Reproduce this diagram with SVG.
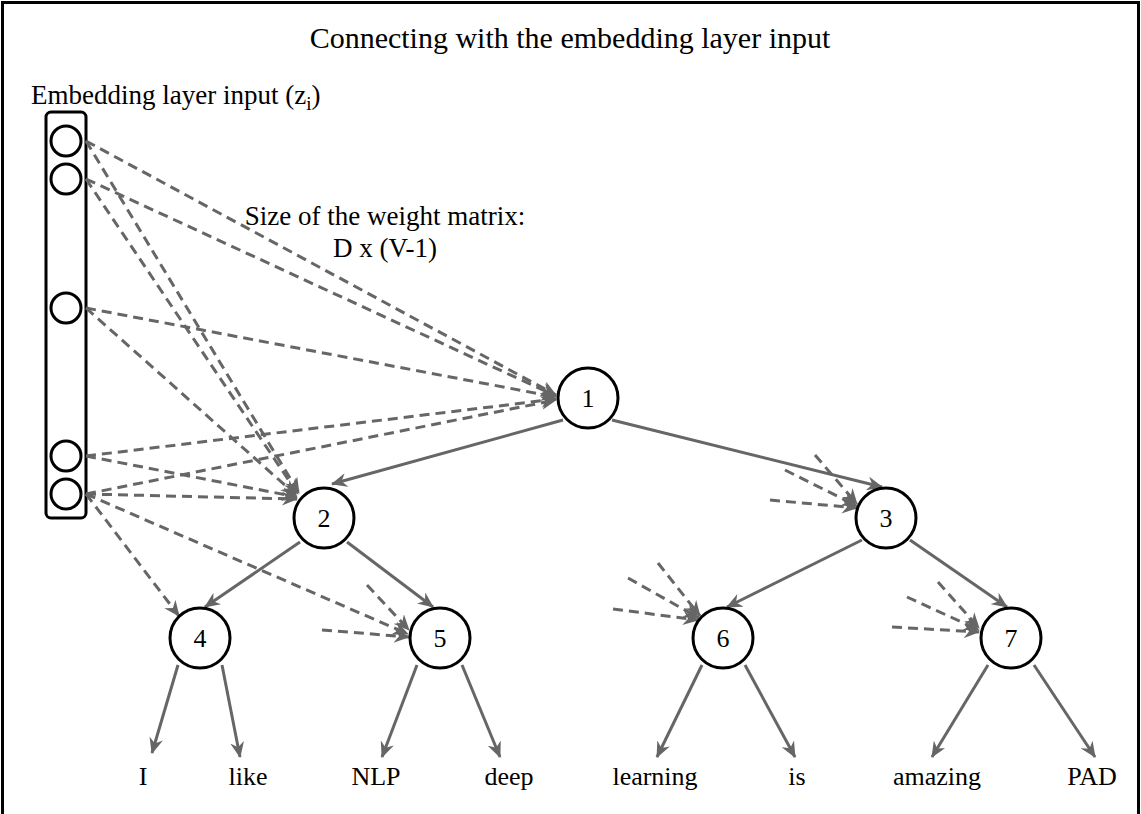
<svg xmlns="http://www.w3.org/2000/svg" width="1141" height="814" viewBox="0 0 1141 814">
<style>
text{font-family:"Liberation Serif","Times New Roman",serif;fill:#000}
.t{font-size:30px;text-anchor:middle}
.l{font-size:27px}
.c{font-size:27px;text-anchor:middle}
.w{font-size:26px;text-anchor:middle}
.n circle{fill:#fff;stroke:#000;stroke-width:3}
.n text{font-size:26px;text-anchor:middle}
.e{fill:none;stroke:#666;stroke-width:3;marker-end:url(#ah)}
.d{fill:none;stroke:#666;stroke-width:3;stroke-dasharray:10 6;marker-end:url(#ah)}
.in{fill:#fff;stroke:#000;stroke-width:3}
</style>
<defs>
<marker id="ah" viewBox="0 0 16 14" refX="15" refY="7" markerWidth="16" markerHeight="14" markerUnits="userSpaceOnUse" orient="auto">
<path d="M0,0 L16,7 L0,14 L5,7 Z" fill="#666"/>
</marker>
</defs>
<rect width="1141" height="814" fill="#fff"/>
<path d="M2.5,814 V2.5 H1138.5 V814" fill="none" stroke="#000" stroke-width="3"/>
<text class="t" x="570" y="48">Connecting with the embedding layer input</text>
<text class="l" x="31" y="104">Embedding layer input (z<tspan font-size="19" dy="6">i</tspan><tspan dy="-6">)</tspan></text>
<text class="c" x="385" y="225">Size of the weight matrix:</text>
<text class="c" x="385" y="257">D x (V-1)</text>
<g id="input">
<rect class="in" x="46" y="112" width="40" height="406" rx="5"/>
<circle class="in" cx="66" cy="141" r="15"/>
<circle class="in" cx="66" cy="179" r="15"/>
<circle class="in" cx="66" cy="308" r="15"/>
<circle class="in" cx="66" cy="456" r="15"/>
<circle class="in" cx="66" cy="494" r="15"/>
</g>
<g id="connectors">
<path class="d" d="M86,141 L556,395"/>
<path class="d" d="M86,179 L556,396"/>
<path class="d" d="M86,308 L556,397"/>
<path class="d" d="M86,456 L556,399"/>
<path class="d" d="M86,494 L556,400"/>
<path class="d" d="M86,141 L299,493"/>
<path class="d" d="M86,179 L298,494"/>
<path class="d" d="M86,308 L296,495"/>
<path class="d" d="M86,456 L297,497"/>
<path class="d" d="M86,494 L297,499"/>
<path class="d" d="M86,494 L179,616"/>
<path class="d" d="M86,494 L408,634"/>
<path class="d" d="M367,585 L409,630"/>
<path class="d" d="M322,630 L409,637"/>
<path class="d" d="M815,455 L857,504"/>
<path class="d" d="M785,470 L857,506"/>
<path class="d" d="M770,500 L857,508"/>
<path class="d" d="M658,563 L700,616"/>
<path class="d" d="M628,578 L699,618"/>
<path class="d" d="M613,609 L698,620"/>
<path class="d" d="M938,582 L979,628"/>
<path class="d" d="M907,597 L979,630"/>
<path class="d" d="M892,627 L979,632"/>
<path class="e" d="M563,420 L332,484"/>
<path class="e" d="M612,420 L882,487"/>
<path class="e" d="M300,542 L205,607"/>
<path class="e" d="M347,542 L433,607"/>
<path class="e" d="M862,540 L727,607"/>
<path class="e" d="M910,540 L1007,607"/>
<path class="e" d="M178,665 L152,753"/>
<path class="e" d="M222,665 L240,757"/>
<path class="e" d="M417,665 L382,757"/>
<path class="e" d="M462,665 L500,757"/>
<path class="e" d="M702,665 L657,757"/>
<path class="e" d="M745,665 L795,757"/>
<path class="e" d="M988,665 L932,757"/>
<path class="e" d="M1034,665 L1095,757"/>
</g>
<g id="n1" class="n"><circle cx="588" cy="398" r="30"/><text x="588" y="407">1</text></g>
<g id="n2" class="n"><circle cx="324" cy="518" r="30"/><text x="324" y="527">2</text></g>
<g id="n3" class="n"><circle cx="886" cy="518" r="30"/><text x="886" y="527">3</text></g>
<g id="n4" class="n"><circle cx="200" cy="638" r="30"/><text x="200" y="647">4</text></g>
<g id="n5" class="n"><circle cx="440" cy="638" r="30"/><text x="440" y="647">5</text></g>
<g id="n6" class="n"><circle cx="723" cy="638" r="30"/><text x="723" y="647">6</text></g>
<g id="n7" class="n"><circle cx="1011" cy="638" r="30"/><text x="1011" y="647">7</text></g>
<g id="leaves">
<text class="w" x="143" y="785">I</text>
<text class="w" x="248" y="785">like</text>
<text class="w" x="376" y="785">NLP</text>
<text class="w" x="509" y="785">deep</text>
<text class="w" x="655" y="785">learning</text>
<text class="w" x="797" y="785">is</text>
<text class="w" x="937" y="785">amazing</text>
<text class="w" x="1092" y="785">PAD</text>
</g>
</svg>
